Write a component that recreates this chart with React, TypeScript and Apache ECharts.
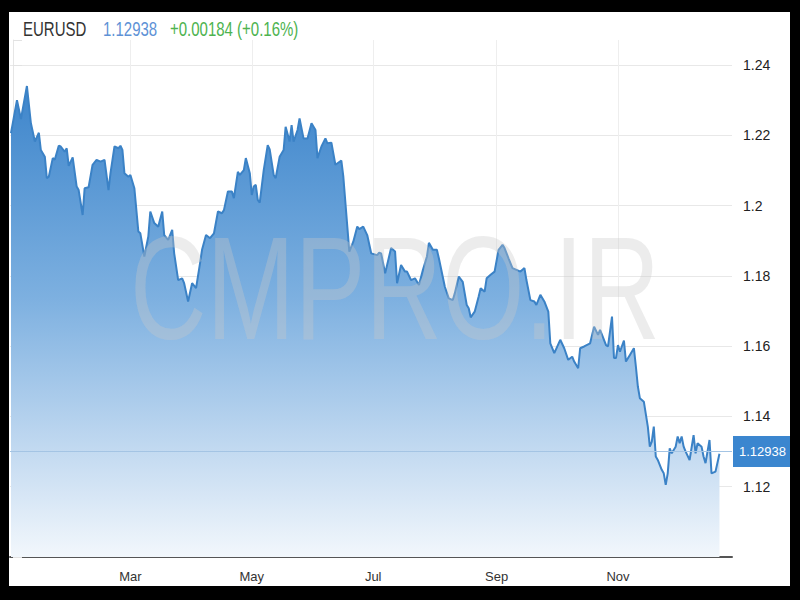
import React, { useEffect, useRef } from "react";
import * as echarts from "echarts";

// ---- data ----
const symbolName = "EURUSD";
const changeText = "+0.00184 (+0.16%)";

// days since 1 Jan 2021
const dayOffsets = [
  -1, 2, 4, 7, 9, 11, 13, 14, 16, 17, 18, 20, 21, 23, 24, 26, 27, 28, 30, 32,
  33, 35, 36, 38, 40, 42, 44, 46, 48, 49, 51, 53, 54, 55, 56, 58, 59, 61, 63, 64,
  66, 68, 69, 71, 73, 75, 76, 78, 80, 81, 83, 85, 86, 88,
  90, 92, 94, 95, 97, 99, 101, 103, 105, 106, 108, 110, 111, 113, 114, 116, 117, 119, 120, 121,
  122, 123, 124, 126, 128, 129, 131, 132, 134, 136, 137, 139, 140, 141, 143, 144, 146, 148, 150, 152,
  153, 155, 157, 158, 160, 162, 165, 166, 168, 169, 171, 173, 174, 176,
  178, 180, 183, 184, 185, 187, 189, 190, 192, 193, 195, 197, 198, 200, 202, 204, 206, 208, 209, 211,
  213, 214, 217, 219, 221, 222, 224, 226, 228, 229, 230, 232, 234, 235, 237, 238, 240, 242, 244, 246,
  247, 249, 251, 253, 255, 257, 258, 260, 262, 263, 265, 267, 269,
  270, 272, 275, 277, 279, 281, 282, 284, 285, 287, 290, 292, 294, 295, 296, 298, 299, 301, 302, 303,
  304, 305, 307, 308, 310, 312, 313, 314, 315, 317, 319, 320, 321, 322, 323, 324, 326, 327, 328, 329,
  330, 331, 333, 334, 335, 336, 337, 338, 340, 342, 343, 344, 346, 347, 348, 350, 351, 353, 355,
];

const prices = [
  1.2206, 1.23, 1.2246, 1.234, 1.2234, 1.2182, 1.2207, 1.2158, 1.2139, 1.2078,
  1.2082, 1.2135, 1.213, 1.217, 1.2168, 1.2153, 1.2163, 1.2113, 1.2137, 1.2054,
  1.2044, 1.1973, 1.2049, 1.2052, 1.2116, 1.213, 1.2125, 1.213, 1.2044, 1.2092,
  1.2168, 1.2163, 1.217, 1.2158, 1.2092, 1.2082, 1.2087, 1.2049, 1.1926, 1.1921,
  1.1855, 1.1912, 1.1983, 1.195, 1.194, 1.1983, 1.1916, 1.1902, 1.1931, 1.1864,
  1.1788, 1.1793, 1.1779, 1.1727,
  1.1779, 1.1765, 1.1836, 1.1874, 1.1916, 1.1907, 1.1921, 1.1983, 1.1978, 1.1987,
  1.204, 1.204, 1.2021, 1.2096, 1.2087, 1.2101, 1.2135, 1.2092, 1.203, 1.2054,
  1.2059, 1.2016, 1.2008, 1.2101, 1.2172, 1.216, 1.2087, 1.2078, 1.2139, 1.2158,
  1.2224, 1.2182, 1.2229, 1.2182, 1.2215, 1.2248, 1.2191, 1.2191, 1.2234, 1.2215,
  1.2135, 1.2168, 1.2191, 1.2177, 1.2179, 1.2116, 1.2128, 1.2082, 1.194, 1.1869,
  1.1897, 1.194, 1.1933, 1.194,
  1.1916, 1.1864, 1.1859, 1.1866, 1.1864, 1.1807, 1.1855, 1.1879, 1.1869, 1.1779,
  1.1831, 1.1812, 1.1812, 1.1788, 1.1793, 1.1774, 1.1817, 1.1855, 1.1894, 1.1874,
  1.1874, 1.185, 1.1769, 1.1736, 1.1731, 1.175, 1.1798, 1.1783, 1.1717, 1.1708,
  1.1682, 1.1698, 1.1741, 1.1765, 1.1755, 1.1793, 1.1803, 1.1812, 1.1874, 1.1888,
  1.1879, 1.185, 1.1822, 1.1817, 1.1812, 1.1822, 1.1788, 1.1731, 1.1727, 1.1717,
  1.1746, 1.1727, 1.1698,
  1.1608, 1.158, 1.1618, 1.1594, 1.1561, 1.157, 1.1556, 1.1537, 1.1594, 1.1599,
  1.1608, 1.1655, 1.1632, 1.1646, 1.1632, 1.1603, 1.1599, 1.1684, 1.1566, 1.1566,
  1.1603, 1.1584, 1.1616, 1.1556, 1.1575, 1.1594, 1.1542, 1.1485, 1.1452, 1.1442,
  1.1371, 1.1314, 1.1328, 1.1371, 1.1286, 1.1276, 1.1248, 1.1238, 1.1205, 1.1238,
  1.1309, 1.1295, 1.1314, 1.1343, 1.1324, 1.1343, 1.1314, 1.13, 1.1276, 1.1347,
  1.1295, 1.1324, 1.1314, 1.1286, 1.1267, 1.1333, 1.1238, 1.1243, 1.12938,
];

// first day of Mar, May, Jul, Sep, Nov (days since 1 Jan)
const monthTickDays = [59, 120, 181, 243, 304];
const monthLabels = ["Mar", "May", "Jul", "Sep", "Nov"];
const yTickValues = [1.12, 1.14, 1.16, 1.18, 1.2, 1.22, 1.24];

export default function App() {
  const ref = useRef<HTMLDivElement>(null);

  useEffect(() => {
    if (!ref.current) return;
    const chart = echarts.init(ref.current, null, { renderer: "svg" });
    const seriesData = dayOffsets.map((d, i) => [d, prices[i]]);
    const lastPrice = prices[prices.length - 1];
    const font = "Liberation Sans, Arial, sans-serif";

    chart.setOption({
      animation: false,
      backgroundColor: "#ffffff",
      textStyle: { fontFamily: font },
      grid: { left: 1, top: 28, right: 58, bottom: 29, containLabel: false },
      xAxis: {
        type: "value",
        min: -1.5,
        max: 361.3,
        axisLine: { show: true, onZero: false, lineStyle: { color: "#555555", width: 2 } },
        axisTick: { show: false, customValues: monthTickDays },
        axisLabel: {
          customValues: monthTickDays,
          color: "#333333",
          fontSize: 13,
          margin: 13,
          fontFamily: font,
          formatter: (v: number) => {
            const i = monthTickDays.findIndex((t) => Math.abs(t - v) < 0.5);
            return i >= 0 ? monthLabels[i] : "";
          },
        },
        splitLine: { show: true, lineStyle: { color: "#eeeeee", width: 1 } },
      },
      yAxis: {
        type: "value",
        position: "right",
        min: 1.1,
        max: 1.2471,
        interval: 0.02,
        axisLine: { show: true, lineStyle: { color: "#e6e6e6", width: 1 } },
        axisTick: { show: true, length: 9, lineStyle: { color: "#e2e2e2" } },
        axisLabel: {
          color: "#222222",
          fontSize: 14,
          margin: 11,
          fontFamily: font,
          formatter: (v: number) => {
            const hit = yTickValues.find((t) => Math.abs(t - v) < 1e-6);
            return hit !== undefined ? String(parseFloat(hit.toFixed(2))) : "";
          },
        },
        splitLine: {
          show: true,
          lineStyle: {
            color: [
              "transparent",
              "#e8e8e8", "#e8e8e8", "#e8e8e8", "#e8e8e8", "#e8e8e8", "#e8e8e8", "#e8e8e8",
              "transparent",
            ],
            width: 1,
          },
        },
      },
      series: [
        {
          type: "line",
          data: seriesData,
          symbol: "none",
          showSymbol: false,
          z: 3,
          lineStyle: { color: "#3b82c6", width: 2 },
          areaStyle: {
            opacity: 1,
            color: new echarts.graphic.LinearGradient(0, 0, 0, 1, [
              { offset: 0, color: "#3d85cb" },
              { offset: 0.45, color: "#7db0e0" },
              { offset: 0.8, color: "#c8ddf2" },
              { offset: 1, color: "#f2f7fc" },
            ]),
          },
          markLine: {
            silent: true,
            symbol: ["none", "none"],
            lineStyle: { color: "#a4c4e4", width: 1, type: "solid" },
            emphasis: { disabled: true },
            label: {
              show: true,
              position: "end",
              distance: 1,
              formatter: () => lastPrice.toFixed(5),
              backgroundColor: "#3b86cf",
              color: "#ffffff",
              fontSize: 13,
              fontFamily: font,
              padding: [9, 6, 9, 6],
            },
            data: [{ yAxis: lastPrice }],
          },
        },
      ],
      graphic: [
        {
          type: "text",
          x: 14,
          y: 17,
          scaleY: 1.35,
          silent: true,
          style: { text: symbolName, fontSize: 15, fontFamily: font, fill: "#333333", verticalAlign: "middle" },
        },
        {
          type: "text",
          x: 94,
          y: 17,
          scaleY: 1.35,
          silent: true,
          style: { text: lastPrice.toFixed(5), fontSize: 15, fontFamily: font, fill: "#5e92d6", verticalAlign: "middle" },
        },
        {
          type: "text",
          x: 161,
          y: 17,
          scaleY: 1.35,
          silent: true,
          style: { text: changeText, fontSize: 15, fontFamily: font, fill: "#4db34f", verticalAlign: "middle" },
        },
        {
          type: "text",
          x: 386,
          y: 276,
          scaleY: 1.38,
          z: 100,
          silent: true,
          style: {
            text: "CMPRO.IR",
            fontSize: 106,
            fontFamily: font,
            fill: "rgba(200,200,200,0.35)",
            align: "center",
            verticalAlign: "middle",
          },
        },
      ],
    });
    return () => chart.dispose();
  }, []);

  return (
    <div style={{ position: "fixed", left: 0, top: 0, width: 800, height: 600, background: "#000" }}>
      <div
        ref={ref}
        style={{ position: "absolute", left: 9, top: 12, width: 781, height: 574, background: "#fff" }}
      />
    </div>
  );
}
